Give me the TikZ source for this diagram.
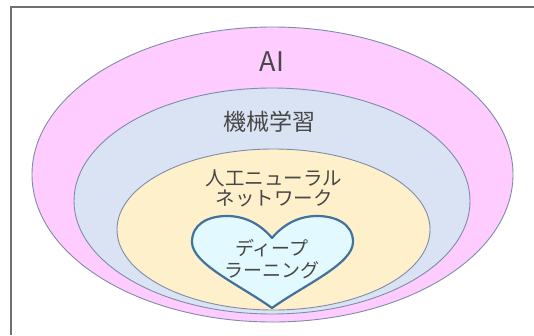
\documentclass[tikz,border=0pt]{standalone}
\usepackage{fontspec}
\newfontfamily\jp{Noto Sans CJK JP}
\definecolor{frameline}{HTML}{707070}
\definecolor{edge}{HTML}{7F8CA8}
\definecolor{aipink}{HTML}{FFCCFF}
\definecolor{mlblue}{HTML}{DAE3F3}
\definecolor{nnyellow}{HTML}{FFF0CC}
\definecolor{dlcyan}{HTML}{E2FAFF}
\definecolor{heartedge}{HTML}{41719C}
\definecolor{txt}{HTML}{474747}
\begin{document}
\begin{tikzpicture}[x=1pt,y=-1pt,
  zone/.style={draw=edge,line width=0.9pt},
  lbl/.style={text=txt,font=\jp,align=center,inner sep=0pt}]
\useasboundingbox (0,0) rectangle (534,335);
\fill[white] (0,0) rectangle (534,335);
\draw[frameline,line width=1.2pt] (11,335) -- (11,7) -- (534,7);
\filldraw[zone,fill=aipink] (272.5,174.5) ellipse [x radius=240.5,y radius=147.5];
\filldraw[zone,fill=mlblue] (272,201) ellipse [x radius=198,y radius=113];
\filldraw[zone,fill=nnyellow] (273.5,229.5) ellipse [x radius=156.5,y radius=80.5];
\filldraw[draw=heartedge,line width=2.2pt,fill=dlcyan,line join=round]
  (272,308) .. controls (240,285) and (192,264) .. (192,242)
  .. controls (192,224) and (208,216) .. (227,216)
  .. controls (247,216) and (262,226) .. (272,238)
  .. controls (282,226) and (297,216) .. (317,216)
  .. controls (336,216) and (353,224) .. (353,242)
  .. controls (353,264) and (304,285) .. (272,308) -- cycle;
\node[lbl,font=\jp\fontsize{27}{30}\selectfont] (ai) at (272,62) {AI};
\node[lbl,font=\jp\fontsize{23}{26}\selectfont] (ml) at (269,122) {機械学習};
\node[lbl,font=\jp\fontsize{19.5}{20}\selectfont] (nn) at (274,188) {人工ニューラル\\ネットワーク};
\node[lbl,font=\jp\fontsize{19}{22}\selectfont] (dl) at (272,259) {ディープ\\ラーニング};
\end{tikzpicture}
\end{document}
